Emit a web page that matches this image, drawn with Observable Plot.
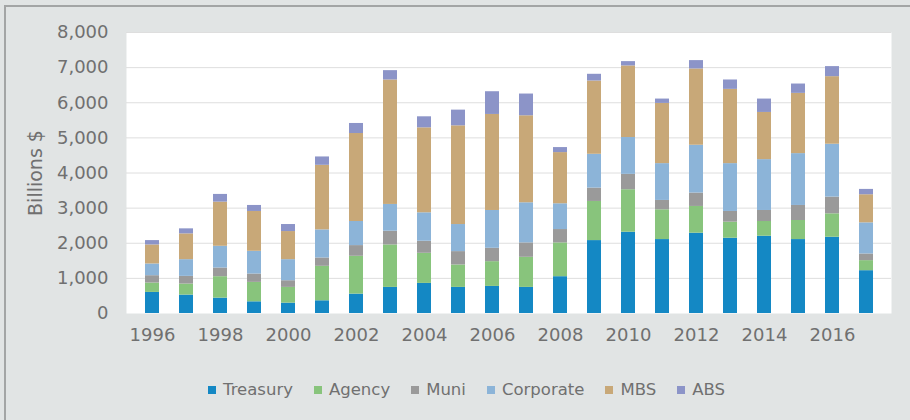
<!DOCTYPE html>
<html>
<head>
<meta charset="utf-8">
<script src="https://cdn.jsdelivr.net/npm/d3@7"></script>
<script src="https://cdn.jsdelivr.net/npm/@observablehq/plot@0.6"></script>
<style>
  html, body { margin: 0; padding: 0; background: #e1e4e4; width: 910px; height: 420px; overflow: hidden; }
  #frame { position: absolute; left: 4px; top: 5px; width: 920px; height: 430px; border-top: 2px solid #a3a5a5; border-left: 2px solid #a3a5a5; box-sizing: border-box; }
  #chart { position: absolute; left: 0; top: 0; }
  #legend { position: absolute; left: 208px; top: 380px; display: flex; align-items: center; font-family: "DejaVu Sans", sans-serif; font-size: 16.5px; color: #707070; white-space: nowrap; }
  #legend .item { display: flex; align-items: center; margin-right: 21px; }
  #legend .sw { width: 8px; height: 8px; margin-right: 7px; }
</style>
</head>
<body>
<div id="frame"></div>
<div id="chart"></div>
<div id="legend"></div>
<script>
const years = [1996,1997,1998,1999,2000,2001,2002,2003,2004,2005,2006,2007,2008,2009,2010,2011,2012,2013,2014,2015,2016,2017];
const types = ["Treasury","Agency","Muni","Corporate","MBS","ABS"];
const colors = ["#1488c4","#88c47c","#9a9a9a","#8cb4d8","#c8a878","#8c94c8"];
const treasury  = [600,524,438,333,295,362,552,743,857,743,771,743,1048,2076,2314,2105,2286,2143,2200,2105,2171,1219];
const agency    = [267,314,610,553,448,981,1077,1209,857,638,705,857,962,1114,1210,847,762,457,419,543,667,286];
const muni      = [209,219,247,238,190,238,304,391,343,381,381,410,380,381,438,267,381,305,314,428,476,190];
const corporate = [334,476,619,647,600,800,686,762,810,771,1076,1142,734,962,1048,1048,1361,1362,1448,1476,1505,886];
const mbs       = [542,734,1257,1134,800,1838,2505,3543,2419,2810,2734,2477,1457,2086,2038,1714,2172,2114,1343,1715,1924,800];
const abs       = [124,143,219,171,200,238,286,266,314,447,647,619,143,191,123,124,238,267,381,266,286,152];
const yTicks = [0,1000,2000,3000,4000,5000,6000,7000,8000];
const xTickYears = [1996,1998,2000,2002,2004,2006,2008,2010,2012,2014,2016];

const series = [treasury, agency, muni, corporate, mbs, abs];
const data = [];
types.forEach((t, i) => years.forEach((y, j) => data.push({year: y, type: t, value: series[i][j]})));

const chart = Plot.plot({
  width: 910,
  height: 360,
  marginLeft: 126,
  marginRight: 19,
  marginTop: 32,
  marginBottom: 47,
  style: { background: "transparent", fontFamily: "DejaVu Sans, sans-serif", color: "#707070" },
  x: { type: "band", domain: years, paddingInner: 0.6, paddingOuter: 0.3 },
  y: { domain: [0, 8000] },
  color: { domain: types, range: colors },
  marks: [
    Plot.frame({ fill: "white", stroke: null }),
    Plot.ruleY(yTicks.slice(1), { stroke: "#dedede", strokeWidth: 1 }),
    Plot.barY(data, { x: "year", y: "value", fill: "type", order: types }),
    Plot.axisY({ ticks: yTicks, tickSize: 0, tickPadding: 18, fontSize: 18, tickFormat: d3.format(","), label: null }),
    Plot.axisX({ ticks: xTickYears, tickSize: 0, tickPadding: 15, fontSize: 18, tickFormat: d => String(d), label: null }),
    Plot.text(["Billions $"], { frameAnchor: "left", textAnchor: "middle", rotate: -90, dx: -91, fontSize: 19, fill: "#707070" })
  ]
});
document.getElementById("chart").appendChild(chart);

const legend = document.getElementById("legend");
types.forEach((t, i) => {
  const it = document.createElement("div");
  it.className = "item";
  const sw = document.createElement("div");
  sw.className = "sw";
  sw.style.background = colors[i];
  const tx = document.createElement("span");
  tx.textContent = t;
  it.appendChild(sw); it.appendChild(tx);
  legend.appendChild(it);
});
</script>
</body>
</html>
